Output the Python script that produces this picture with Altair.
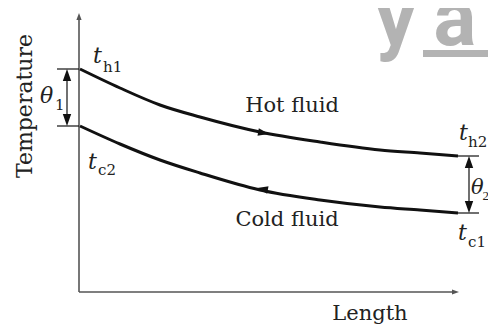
import math
import altair as alt
import pandas as pd

# ---- data (in picture pixel coordinates) ----
length_x = [80, 120, 160, 200, 260, 320, 380, 420, 458]
hot_y = [69, 88, 105, 117, 132, 142, 150, 153, 156]
cold_y = [126, 144, 160, 173, 190, 200, 207, 210, 213]

# axis lines and tick/guide lines: x, y, x2, y2
axis_lines = [(79, 18, 79, 292), (79, 292, 454, 292)]
guide_lines = [(57, 69, 79, 69), (57, 126, 79, 126), (458, 156, 479, 156), (458, 213, 479, 213),
               (67, 78, 67, 117), (469, 165, 469, 204)]

# arrowheads: tip x, tip y, pointing direction (deg, 0 = right, 90 = down), length, half width, colour
arrow_heads = [
    (79, 13, -90, 7, 2.6, "#555555"),
    (459, 292, 0, 7, 2.6, "#555555"),
    (67, 69, -90, 12, 4.2, "#111111"),
    (67, 126, 90, 12, 4.2, "#111111"),
    (469, 156, -90, 12, 4.2, "#111111"),
    (469, 213, 90, 12, 4.2, "#111111"),
    (269, 134, 10, 11, 3.8, "#111111"),
    (257, 188, 190, 11, 3.8, "#111111"),
]

# texts: text, x, y(baseline), size, style, align, angle, font
SERIF = "DejaVu Serif"
NARROW = "Liberation Serif"
labels = [
    ("Temperature", 32, 106, 22, "normal", "center", 270, SERIF),
    ("Hot fluid", 292, 112, 21, "normal", "center", 0, SERIF),
    ("Cold fluid", 287, 226, 21, "normal", "center", 0, SERIF),
    ("Length", 370, 320, 21, "normal", "center", 0, SERIF),
    ("t", 93, 63, 22, "italic", "left", 0, SERIF),
    ("h1", 103, 72, 15, "normal", "left", 0, SERIF),
    ("t", 88, 169, 22, "italic", "left", 0, SERIF),
    ("c2", 98, 175, 15, "normal", "left", 0, SERIF),
    ("t", 459, 140, 22, "italic", "left", 0, SERIF),
    ("h2", 468, 147, 15, "normal", "left", 0, SERIF),
    ("t", 458, 240, 22, "italic", "left", 0, SERIF),
    ("c1", 468, 247, 15, "normal", "left", 0, SERIF),
    ("θ", 40, 103, 22, "italic", "left", 0, SERIF),
    ("1", 55, 110, 15, "normal", "left", 0, SERIF),
    ("θ", 471, 194, 21, "italic", "left", 0, SERIF),
    ("2", 482.5, 200, 13, "normal", "left", 0, NARROW),
]

# watermark
wm_text = [("y", 396, 45), ("a", 455, 45)]
wm_bar = [(423, 50, 496, 57)]

W, H = 480, 317
xs = alt.Scale(domain=[8, 8 + W])
ys = alt.Scale(domain=[8, 8 + H], reverse=True)


def X(f="x"):
    return alt.X(f"{f}:Q", scale=xs, axis=None)


def Y(f="y"):
    return alt.Y(f"{f}:Q", scale=ys, axis=None)


# build triangle outlines for the arrowheads as area pieces (upper/lower edges over x)
tri_rows = []
for i, (tx, ty, ang, ln, hw, col) in enumerate(arrow_heads):
    a = math.radians(ang)
    ux, uy = math.cos(a), math.sin(a)
    bx, by = tx - ln * ux, ty - ln * uy
    verts = [(tx, ty), (bx - hw * uy, by + hw * ux), (bx + hw * uy, by - hw * ux)]
    verts.sort()
    (x1, y1), (x2, y2), (x3, y3) = verts
    eps = 1e-6
    if x2 - x1 < eps:
        pts = [(x1, min(y1, y2), max(y1, y2)), (x3, y3, y3)]
    elif x3 - x2 < eps:
        pts = [(x1, y1, y1), (x3, min(y2, y3), max(y2, y3))]
    else:
        yi = y1 + (y3 - y1) * (x2 - x1) / (x3 - x1)
        pts = [(x1, y1, y1), (x2, y2, yi), (x3, y3, y3)]
    for px, py, py2 in pts:
        tri_rows.append({"id": i, "x": px, "y": py, "y2": py2, "c": col})
tri_df = pd.DataFrame(tri_rows)

curves = pd.DataFrame(
    [{"x": a, "y": b, "s": "hot"} for a, b in zip(length_x, hot_y)]
    + [{"x": a, "y": b, "s": "cold"} for a, b in zip(length_x, cold_y)]
)
ax_df = pd.DataFrame(axis_lines, columns=["x", "y", "x2", "y2"])
gl_df = pd.DataFrame(guide_lines, columns=["x", "y", "x2", "y2"])

wm = alt.Chart(pd.DataFrame(wm_text, columns=["t", "x", "y"])).mark_text(
    font="Roboto", fontSize=80, fontWeight="bold", color="#b3b3b3", baseline="alphabetic"
).encode(x=X(), y=Y(), text="t:N")
wm_rect = alt.Chart(pd.DataFrame(wm_bar, columns=["x", "y", "x2", "y2"])).mark_rect(color="#b3b3b3").encode(
    x=X(), y=Y(), x2="x2:Q", y2="y2:Q")

axes = alt.Chart(ax_df).mark_rule(color="#555555", strokeWidth=1.6).encode(
    x=X(), y=Y(), x2="x2:Q", y2="y2:Q")
guides = alt.Chart(gl_df).mark_rule(color="#111111", strokeWidth=1.2).encode(
    x=X(), y=Y(), x2="x2:Q", y2="y2:Q")

lines = alt.Chart(curves).mark_line(color="#111111", strokeWidth=3, interpolate="monotone").encode(
    x=X(), y=Y(), detail="s:N")

heads = alt.Chart(tri_df).mark_area(orient="vertical", opacity=1, interpolate="linear").encode(
    x=X(), y=Y(), y2="y2:Q", detail="id:N",
    color=alt.Color("c:N", scale=None),
)

lab_df = pd.DataFrame(labels, columns=["t", "x", "y", "size", "style", "align", "angle", "font"])
texts = []
for (style, align, angle, font), g in lab_df.groupby(["style", "align", "angle", "font"]):
    texts.append(
        alt.Chart(g).mark_text(
            font=font, fontStyle=style, align=align, angle=int(angle), baseline="alphabetic", color="#222222"
        ).encode(x=X(), y=Y(), text="t:N", size=alt.Size("size:Q", scale=None))
    )

chart = alt.layer(
    wm, wm_rect, axes, guides, lines, heads, *texts
).properties(
    width=W, height=H, autosize=alt.AutoSizeParams(type="none"), padding=0
).configure_view(stroke=None)

chart.save("out.html", embed_options={"renderer": "svg", "actions": False})
